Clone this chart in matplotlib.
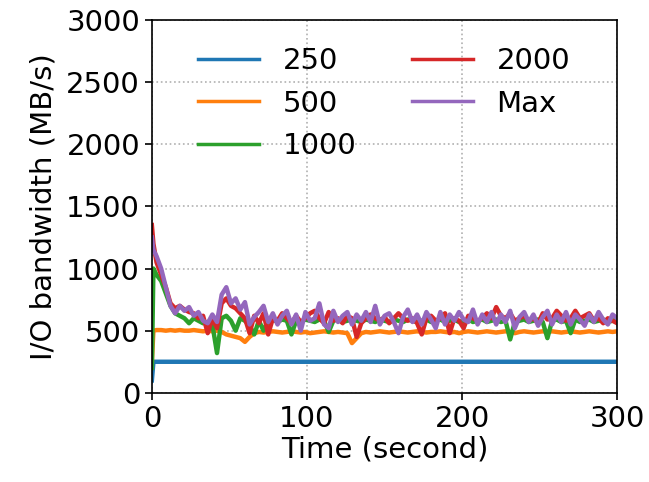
import numpy as np
import matplotlib
matplotlib.use("Agg")
import matplotlib.pyplot as plt

time = np.concatenate([[0, 1], np.arange(3, 301, 3)])

bw_250_time = [0, 1, 300]
bw_250 = [100, 250, 250]

bw_500 = [250, 500,
          505, 505, 500, 505, 500, 505, 500, 500, 505, 500, 495, 500, 495, 500,
          490, 470, 460, 450, 440, 410, 450, 480, 490, 485, 490, 495, 490, 485,
          490, 495, 490, 485, 490, 480, 485, 490, 495, 490, 485, 490, 485, 480,
          400, 440, 480, 490, 485, 490, 495, 490, 485, 490, 495, 490, 485, 490,
          495, 490, 485, 490, 490, 495, 490, 485, 490, 480, 490, 495, 490, 485,
          490, 495, 490, 485, 490, 495, 490, 480, 490, 495, 490, 485, 490, 495,
          490, 495, 490, 485, 490, 495, 490, 485, 490, 495, 490, 485, 490, 495,
          490, 495]

bw_1000 = [200, 1000,
           950, 900, 800, 700, 640, 620, 600, 560, 600, 580, 560, 570, 550, 320,
           600, 620, 580, 500, 600, 580, 540, 470, 580, 500, 580, 590, 570, 590,
           580, 470, 580, 570, 590, 580, 570, 590, 580, 490, 580, 590, 570, 580,
           590, 580, 570, 590, 580, 570, 590, 580, 570, 590, 580, 570, 590, 580,
           570, 580, 590, 570, 580, 590, 570, 580, 590, 570, 580, 590, 570, 580,
           590, 570, 580, 590, 570, 580, 430, 570, 580, 590, 570, 580, 590, 570,
           440, 580, 590, 570, 580, 480, 590, 570, 580, 590, 570, 580, 590, 570,
           580, 590]

bw_2000 = [1350, 1200,
           1050, 950, 850, 720, 680, 700, 670, 650, 640, 600, 620, 480, 600, 520,
           720, 760, 700, 680, 640, 600, 480, 620, 560, 640, 470, 600, 580, 640,
           600, 560, 620, 570, 600, 640, 660, 600, 560, 650, 580, 600, 560, 620,
           600, 450, 560, 600, 630, 600, 580, 610, 560, 600, 640, 600, 580, 600,
           560, 470, 600, 620, 580, 600, 640, 480, 600, 580, 520, 620, 600, 580,
           600, 640, 600, 690, 620, 600, 640, 580, 600, 620, 580, 600, 560, 640,
           590, 600, 660, 620, 580, 600, 660, 600, 620, 640, 580, 600, 560, 600,
           580, 560]

bw_max = [1250, 1150,
          1100, 1000, 850, 700, 640, 700, 660, 690, 620, 650, 580, 560, 630, 570,
          790, 850, 720, 760, 670, 730, 550, 610, 650, 700, 570, 640, 550, 620,
          660, 550, 630, 500, 650, 580, 600, 720, 550, 520, 660, 570, 620, 650,
          550, 630, 580, 650, 570, 700, 550, 620, 640, 570, 480, 610, 670, 570,
          630, 550, 650, 590, 520, 650, 550, 630, 580, 650, 590, 570, 670, 550,
          630, 570, 650, 550, 630, 570, 660, 520, 610, 650, 570, 630, 540, 610,
          660, 550, 630, 570, 650, 550, 630, 590, 540, 630, 570, 650, 590, 550,
          630, 600]

labels = ["250", "500", "1000", "2000", "Max"]
colors = ["#1f77b4", "#ff7f0e", "#2ca02c", "#d62728", "#9467bd"]

fig = plt.figure(figsize=(6.49, 4.82), dpi=100)
ax = fig.add_axes([0.234, 0.185, 0.717, 0.7735])

lw = 3.2
ax.plot(bw_250_time, bw_250, color=colors[0], lw=lw, label=labels[0])
ax.plot(time, bw_500, color=colors[1], lw=lw, label=labels[1])
ax.plot(time, bw_1000, color=colors[2], lw=lw, label=labels[2])
ax.plot(time, bw_2000, color=colors[3], lw=lw, label=labels[3])
ax.plot(time, bw_max, color=colors[4], lw=lw, label=labels[4])

fs = 21
ax.set_xlim(0, 300)
ax.set_ylim(0, 3000)
ax.set_xticks([0, 100, 200, 300])
ax.set_yticks(np.arange(0, 3001, 500))
ax.tick_params(labelsize=fs, width=1.2, length=5)
for s in ax.spines.values():
    s.set_linewidth(1.2)
ax.set_xlabel("Time (second)", fontsize=fs, labelpad=2)
ax.set_ylabel("I/O bandwidth (MB/s)", fontsize=fs, labelpad=6)
ax.grid(True, linestyle=":", color="#b0b0b0", linewidth=1.2)
leg = ax.legend(ncol=2, frameon=False, fontsize=fs, loc="upper left",
                bbox_to_anchor=(0.043, 0.998), handlelength=2.1, handletextpad=0.8,
                columnspacing=1.9, labelspacing=0.5)
for h in leg.get_lines():
    h.set_linewidth(2.5)

fig.savefig("out.png", dpi=100)
